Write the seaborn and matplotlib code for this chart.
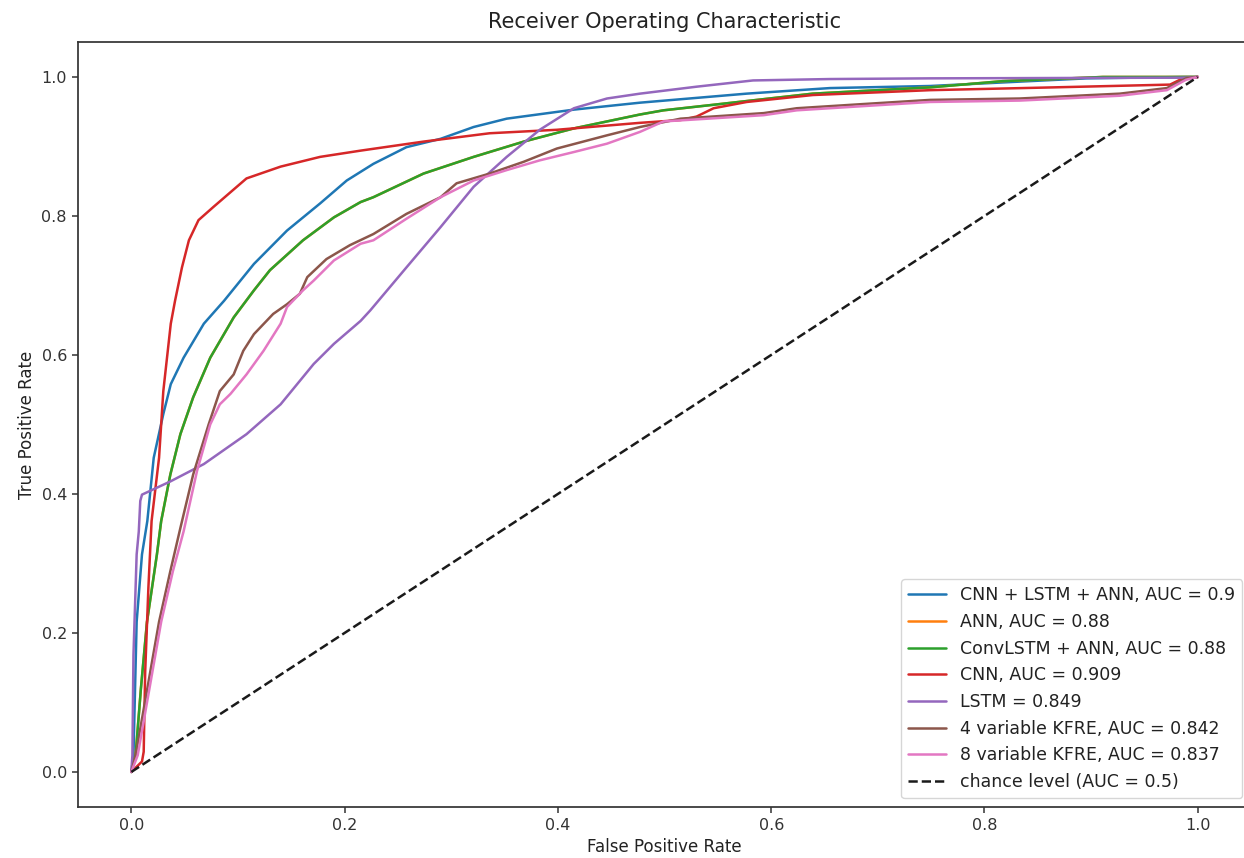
import matplotlib
matplotlib.use("Agg")
import matplotlib.pyplot as plt
import numpy as np
import pandas as pd
import seaborn as sns

# ROC points (false positive rate, true positive rate)
cnn_lstm_ann_fpr = [0.0, 0.002, 0.005, 0.010, 0.015, 0.021, 0.030, 0.037, 0.049, 0.068, 0.087,
                    0.115, 0.146, 0.177, 0.202, 0.227, 0.258, 0.290, 0.321, 0.352, 0.415, 0.477,
                    0.577, 0.655, 0.749, 0.896, 0.99, 1.0]
cnn_lstm_ann_tpr = [0.0, 0.024, 0.216, 0.313, 0.361, 0.452, 0.515, 0.558, 0.596, 0.645, 0.678,
                    0.731, 0.779, 0.818, 0.851, 0.875, 0.899, 0.911, 0.928, 0.940, 0.953, 0.963,
                    0.976, 0.984, 0.987, 0.998, 1.0, 1.0]

convlstm_ann_fpr = [0.0, 0.004, 0.009, 0.0147, 0.024, 0.028, 0.0366, 0.046, 0.058, 0.074, 0.096,
                    0.115, 0.130, 0.161, 0.190, 0.215, 0.227, 0.274, 0.321, 0.368, 0.415, 0.477,
                    0.499, 0.546, 0.639, 0.749, 0.817, 0.911, 1.0]
convlstm_ann_tpr = [0.0, 0.024, 0.120, 0.216, 0.313, 0.361, 0.428, 0.486, 0.539, 0.596, 0.654,
                    0.693, 0.722, 0.765, 0.798, 0.820, 0.827, 0.861, 0.885, 0.907, 0.926, 0.946,
                    0.952, 0.960, 0.976, 0.985, 0.994, 1.0, 1.0]

# the ANN curve lies exactly under the ConvLSTM + ANN curve in the reference
ann_fpr = list(convlstm_ann_fpr)
ann_tpr = list(convlstm_ann_tpr)

cnn_fpr = [0.0, 0.010, 0.0116, 0.013, 0.016, 0.019, 0.026, 0.030, 0.037, 0.041, 0.0475, 0.054,
           0.063, 0.077, 0.108, 0.140, 0.177, 0.215, 0.274, 0.336, 0.399, 0.477, 0.515, 0.530,
           0.546, 0.577, 0.639, 0.749, 0.864, 0.974, 0.986, 1.0]
cnn_tpr = [0.0, 0.015, 0.029, 0.144, 0.265, 0.361, 0.452, 0.548, 0.645, 0.678, 0.726, 0.765,
           0.794, 0.813, 0.854, 0.871, 0.885, 0.894, 0.907, 0.919, 0.924, 0.934, 0.938, 0.943,
           0.955, 0.964, 0.974, 0.981, 0.985, 0.989, 0.998, 1.0]

lstm_fpr = [0.0, 0.001, 0.002, 0.005, 0.007, 0.0084, 0.010, 0.0366, 0.068, 0.108, 0.140, 0.171,
            0.190, 0.215, 0.224, 0.258, 0.290, 0.321, 0.352, 0.383, 0.415, 0.446, 0.477, 0.530,
            0.583, 0.655, 0.749, 0.99, 1.0]
lstm_tpr = [0.0, 0.024, 0.168, 0.313, 0.346, 0.390, 0.399, 0.418, 0.443, 0.486, 0.529, 0.587,
            0.616, 0.649, 0.664, 0.726, 0.784, 0.842, 0.885, 0.924, 0.955, 0.969, 0.976, 0.986,
            0.995, 0.997, 0.998, 0.999, 1.0]

kfre4_fpr = [0.0, 0.004, 0.015, 0.026, 0.0366, 0.046, 0.058, 0.0725, 0.083, 0.096, 0.105, 0.115,
             0.133, 0.146, 0.158, 0.165, 0.183, 0.205, 0.227, 0.258, 0.290, 0.305, 0.336, 0.368,
             0.399, 0.446, 0.477, 0.515, 0.593, 0.624, 0.686, 0.749, 0.833, 0.927, 0.971, 0.989, 1.0]
kfre4_tpr = [0.0, 0.024, 0.120, 0.216, 0.289, 0.351, 0.428, 0.500, 0.548, 0.572, 0.606, 0.630,
             0.659, 0.673, 0.688, 0.712, 0.738, 0.758, 0.774, 0.803, 0.827, 0.847, 0.861, 0.878,
             0.897, 0.916, 0.928, 0.940, 0.948, 0.955, 0.961, 0.967, 0.969, 0.976, 0.984, 0.998, 1.0]

kfre8_fpr = [0.0, 0.006, 0.017, 0.028, 0.039, 0.049, 0.0616, 0.074, 0.083, 0.093, 0.108, 0.124,
             0.140, 0.146, 0.161, 0.171, 0.190, 0.215, 0.227, 0.258, 0.290, 0.321, 0.352, 0.383,
             0.415, 0.446, 0.477, 0.499, 0.593, 0.624, 0.686, 0.749, 0.833, 0.927, 0.971, 0.989, 1.0]
kfre8_tpr = [0.0, 0.024, 0.120, 0.216, 0.289, 0.346, 0.433, 0.500, 0.529, 0.544, 0.572, 0.606,
             0.645, 0.669, 0.693, 0.707, 0.736, 0.760, 0.765, 0.796, 0.827, 0.851, 0.866, 0.880,
             0.892, 0.904, 0.921, 0.936, 0.945, 0.952, 0.958, 0.964, 0.966, 0.973, 0.981, 0.996, 1.0]

chance_fpr = [0.0, 1.0]
chance_tpr = [0.0, 1.0]

model_labels = ["CNN + LSTM + ANN, AUC = 0.9", "ANN, AUC = 0.88", "ConvLSTM + ANN, AUC = 0.88",
                "CNN, AUC = 0.909", "LSTM = 0.849", "4 variable KFRE, AUC = 0.842",
                "8 variable KFRE, AUC = 0.837"]
chance_label = "chance level (AUC = 0.5)"

curves = [(cnn_lstm_ann_fpr, cnn_lstm_ann_tpr), (ann_fpr, ann_tpr),
          (convlstm_ann_fpr, convlstm_ann_tpr), (cnn_fpr, cnn_tpr), (lstm_fpr, lstm_tpr),
          (kfre4_fpr, kfre4_tpr), (kfre8_fpr, kfre8_tpr)]

sns.set_theme(style="ticks")
plt.rcParams["font.family"] = ["DejaVu Sans"]
plt.rcParams["axes.edgecolor"] = "#333333"
plt.rcParams["xtick.color"] = "#333333"
plt.rcParams["ytick.color"] = "#333333"
plt.rcParams["text.color"] = "#222222"
plt.rcParams["axes.labelcolor"] = "#222222"

palette = sns.color_palette("tab10")

fig = plt.figure(figsize=(12.44, 8.58), dpi=100)
ax = fig.add_axes([0.0627, 0.0598, 0.9430, 0.8910])

for (fpr, tpr), label, color in zip(curves, model_labels, palette):
    df = pd.DataFrame({"fpr": fpr, "tpr": tpr})
    sns.lineplot(data=df, x="fpr", y="tpr", ax=ax, sort=False, estimator=None,
                 color=color, linewidth=1.8, label=label)

ax.plot(chance_fpr, chance_tpr, "k--", linewidth=1.8, label=chance_label)

ax.set_xlim(-0.05, 1.05)
ax.set_ylim(-0.05, 1.05)
ax.set_xticks(np.arange(0, 1.01, 0.2))
ax.set_yticks(np.arange(0, 1.01, 0.2))
ax.tick_params(labelsize=11.5, length=4.5, width=1.1)
ax.set_xlabel("False Positive Rate", fontsize=12)
ax.set_ylabel("True Positive Rate", fontsize=12)
ax.set_title("Receiver Operating Characteristic", fontsize=15, pad=10)
ax.legend(loc="lower right", fontsize=12.5, frameon=True, handlelength=2.2)

fig.savefig("out.png", dpi=100)
